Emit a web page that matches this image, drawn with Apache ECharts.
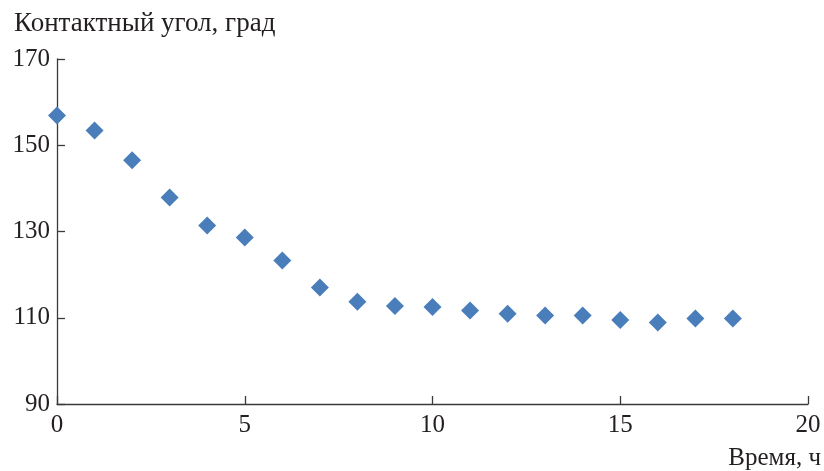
<!DOCTYPE html>
<html>
<head>
<meta charset="utf-8">
<script src="https://cdn.jsdelivr.net/npm/echarts@6/dist/echarts.min.js"></script>
<style>
  html, body { margin: 0; padding: 0; background: #fff; }
  #chart { width: 824px; height: 471px; }
</style>
</head>
<body>
<div id="chart"></div>
<script>
// Contact angle vs. time
const hours = [0, 1, 2, 3, 4, 5, 6, 7, 8, 9, 10, 11, 12, 13, 14, 15, 16, 17, 18];
const angles = [156.9, 153.4, 146.5, 137.9, 131.4, 128.6, 123.3, 117.0, 113.7, 112.7, 112.5, 111.7, 110.9, 110.5, 110.5, 109.5, 108.9, 109.8, 109.8];
const xTicks = [0, 5, 10, 15, 20];
const yTicks = [90, 110, 130, 150, 170];
const yTitle = 'Контактный угол, град';
const xTitle = 'Время, ч';

const font = 'Liberation Serif';
const fontSize = 25;
const textColor = '#231f20';
const axisColor = '#3a3a3a';

const chart = echarts.init(document.getElementById('chart'));
chart.setOption({
  backgroundColor: '#ffffff',
  animation: false,
  title: {
    text: yTitle,
    left: 9,
    top: 5,
    textStyle: { fontFamily: font, fontSize: 27, fontWeight: 'normal', color: textColor }
  },
  grid: { left: 57, top: 59, right: 16, bottom: 66, containLabel: false },
  xAxis: {
    type: 'value',
    min: xTicks[0],
    max: xTicks[xTicks.length - 1],
    interval: xTicks[1] - xTicks[0],
    name: xTitle,
    nameLocation: 'end',
    nameGap: 13,
    nameTextStyle: {
      fontFamily: font, fontSize: fontSize, color: textColor,
      align: 'right', verticalAlign: 'top', padding: [42, 0, 0, 0]
    },
    axisLine: { show: true, lineStyle: { color: axisColor, width: 1.3 } },
    axisTick: { show: true, inside: true, length: 8, lineStyle: { color: axisColor, width: 1.3 } },
    axisLabel: { fontFamily: font, fontSize: fontSize, color: textColor, margin: 9 },
    splitLine: { show: false }
  },
  yAxis: {
    type: 'value',
    min: yTicks[0],
    max: yTicks[yTicks.length - 1],
    interval: yTicks[1] - yTicks[0],
    axisLine: { show: true, lineStyle: { color: axisColor, width: 1.3 } },
    axisTick: { show: true, inside: true, length: 8, lineStyle: { color: axisColor, width: 1.3 } },
    axisLabel: { fontFamily: font, fontSize: fontSize, color: textColor, margin: 7 },
    splitLine: { show: false }
  },
  series: [{
    type: 'scatter',
    symbol: 'diamond',
    symbolSize: [18, 18],
    itemStyle: { color: '#4a7ebb', opacity: 1 },
    data: hours.map((h, i) => [h, angles[i]])
  }]
});
</script>
</body>
</html>
